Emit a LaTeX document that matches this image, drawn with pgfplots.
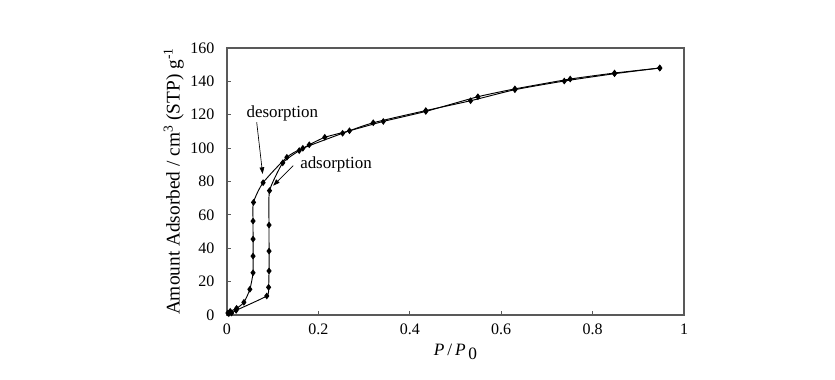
\documentclass[border=0pt]{standalone}
\usepackage{fontspec}
\setmainfont{Liberation Serif}
\usepackage{pgfplots}
\pgfplotsset{compat=1.18}
\usetikzlibrary{arrows.meta}
\begin{document}
\begin{tikzpicture}
\begin{axis}[
  width=342.75pt, height=200.25pt, scale only axis,
  xmin=0, xmax=1, ymin=0, ymax=160,
  xtick={0,0.2,...,1}, ytick={0,20,...,160},
  tick align=inside, xtick pos=bottom, ytick pos=left,
  major tick length=3pt,
  axis line style={black!65, line width=0.8pt},
  tick style={black!65, line width=0.6pt},
  /pgf/number format/assume math mode=true,
  tick label style={font=\fontsize{12}{14}\selectfont},
  yticklabel style={xshift=-6pt},
  xticklabel style={yshift=-3pt},
  xlabel={\textit{P}\,/\,\textit{P}\raisebox{-0.5ex}{\,0}},
  ylabel={Amount Adsorbed / cm\textsuperscript{3} (STP) g\textsuperscript{-1}},
  xlabel style={font=\fontsize{13}{15}\selectfont, yshift=0pt},
  ylabel style={font=\fontsize{14.5}{16}\selectfont, yshift=-2pt},
]
% adsorption
\addplot[black, line width=0.7pt, mark=diamond*, mark size=2pt, smooth, tension=0.3] coordinates {
(0.004,0.8)(0.01,1.2)(0.02,2.8)(0.087,11.4)(0.091,16.6)(0.092,26.4)(0.092,38.3)(0.092,53.9)(0.093,74.5)
(0.122,91.2)(0.158,98.5)(0.180,102)(0.214,106.5)(0.268,110.4)(0.342,116)(0.435,122)(0.549,130.8)
(0.630,135.5)(0.751,141.4)(0.848,145)(0.947,148)
};
% desorption
\addplot[black, line width=0.7pt, mark=diamond*, mark size=2pt, smooth, tension=0.4] coordinates {
(0.947,148)(0.848,144.6)(0.738,140.2)(0.630,135)(0.533,128.4)(0.435,122.5)(0.320,115.2)(0.253,108.9)
(0.166,99.9)(0.131,94.5)(0.079,79.3)(0.058,67.5)(0.057,56.3)(0.057,45.5)(0.057,35.3)(0.057,25.3)
(0.050,15.4)(0.037,7.6)(0.021,4)(0.007,2.2)(0.002,1.2)
};
\node[font=\fontsize{12.7}{14}\selectfont] at (axis cs:0.121,121) {desorption};
\node[font=\fontsize{12.7}{14}\selectfont, anchor=west] at (axis cs:0.150,90.5) {adsorption};
\draw[black, line width=0.5pt, -{Triangle[length=5pt,width=3.5pt]}] (axis cs:0.065,115.5) -- (axis cs:0.078,84.5);
\draw[black, line width=0.5pt, -{Triangle[length=5pt,width=3.5pt]}] (axis cs:0.145,89.5) -- (axis cs:0.101,77.5);
\end{axis}
\path (current axis.south west) ++(-170.25pt,-48pt) rectangle ++(626.25pt,284.25pt);
\end{tikzpicture}
\end{document}
